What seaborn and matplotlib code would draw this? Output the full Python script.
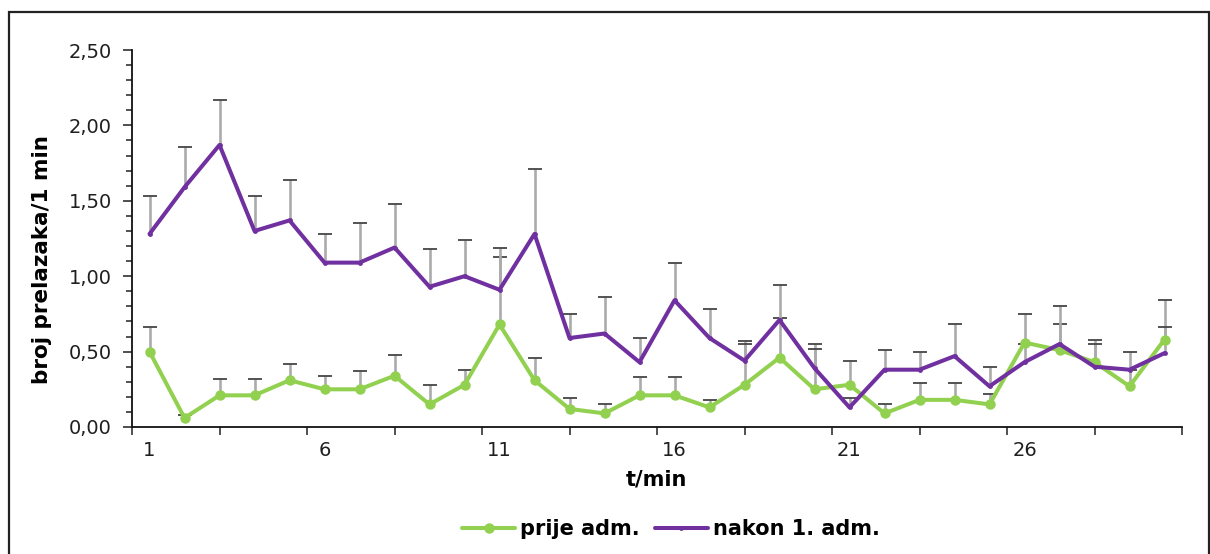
import numpy as np
import pandas as pd
import matplotlib
matplotlib.use("Agg")
import matplotlib.pyplot as plt
from matplotlib.patches import Rectangle
from matplotlib.ticker import FixedLocator, FuncFormatter, NullFormatter
import seaborn as sns

# ---- data ----
minutes = list(range(1, 31))
prije = [0.50, 0.06, 0.21, 0.21, 0.31, 0.25, 0.25, 0.34, 0.15, 0.28,
         0.68, 0.31, 0.12, 0.09, 0.21, 0.21, 0.13, 0.28, 0.46, 0.25,
         0.28, 0.09, 0.18, 0.18, 0.15, 0.56, 0.51, 0.43, 0.27, 0.58]
prije_top = [0.66, 0.08, 0.32, 0.32, 0.42, 0.34, 0.37, 0.48, 0.28, 0.38,
             1.13, 0.46, 0.19, 0.15, 0.33, 0.33, 0.18, 0.57, 0.72, 0.55,
             0.44, 0.15, 0.29, 0.29, 0.22, 0.75, 0.68, 0.58, 0.38, 0.84]
nakon = [1.28, 1.59, 1.87, 1.30, 1.37, 1.09, 1.09, 1.19, 0.93, 1.00,
         0.91, 1.28, 0.59, 0.62, 0.43, 0.84, 0.59, 0.44, 0.71, 0.39,
         0.13, 0.38, 0.38, 0.47, 0.27, 0.43, 0.55, 0.40, 0.38, 0.49]
nakon_top = [1.53, 1.86, 2.17, 1.53, 1.64, 1.28, 1.35, 1.48, 1.18, 1.24,
             1.19, 1.71, 0.75, 0.86, 0.59, 1.09, 0.78, 0.55, 0.94, 0.52,
             0.19, 0.51, 0.50, 0.68, 0.40, 0.55, 0.80, 0.55, 0.50, 0.66]
series_names = ["prije adm.", "nakon 1. adm."]
x_tick_labels = ["1", "6", "11", "16", "21", "26"]
y_ticks = [0.0, 0.5, 1.0, 1.5, 2.0, 2.5]

GREEN = "#92D050"
PURPLE = "#7030A0"

sns.set_theme(style="white")
plt.rcParams["font.family"] = ["DejaVu Sans"]

fig = plt.figure(figsize=(12.10, 5.54), dpi=100)
ax = fig.add_axes([132 / 1210, 1 - 427 / 554, 1050 / 1210, 377 / 554])

df_p = pd.DataFrame({"t": minutes, "v": prije})
df_n = pd.DataFrame({"t": minutes, "v": nakon})

# error bars (upper only, cap only at the top)
for vals, tops in [(prije, prije_top), (nakon, nakon_top)]:
    v = np.array(vals)
    up = np.array(tops) - v
    eb = ax.errorbar(minutes, v, yerr=[np.zeros_like(up), up], fmt="none",
                     ecolor="#ABABAB", elinewidth=1.9, capsize=5,
                     capthick=1.3, zorder=2)
    caps = eb[1]
    if len(caps) == 2:
        caps[0].set_visible(False)
    for cap in caps:
        cap.set_color("#454545")
        cap.set_markeredgecolor("#454545")

sns.lineplot(data=df_p, x="t", y="v", ax=ax, color=GREEN, linewidth=2.9,
             marker="o", markersize=7.5, markeredgewidth=0,
             label=series_names[0], zorder=3)
sns.lineplot(data=df_n, x="t", y="v", ax=ax, color=PURPLE, linewidth=2.9,
             marker="o", markersize=3.5, markeredgewidth=0,
             label=series_names[1], zorder=4)

ax.set_xlim(0.5, 30.5)
ax.set_ylim(0, 2.5)

# x axis: labels every 5, tick marks every 2.5 categories
ax.xaxis.set_major_locator(FixedLocator([1, 6, 11, 16, 21, 26]))
ax.set_xticklabels(x_tick_labels)
ax.xaxis.set_minor_locator(FixedLocator(list(np.arange(0.5, 30.6, 2.5))))
ax.xaxis.set_minor_formatter(NullFormatter())
ax.tick_params(axis="x", which="major", length=0, pad=10, labelsize=14,
               colors="#1f1f1f")
ax.tick_params(axis="x", which="minor", length=5.5, width=1.1,
               direction="out", color="#222222", bottom=True)

# y axis
ax.yaxis.set_major_locator(FixedLocator(y_ticks))
ax.yaxis.set_major_formatter(FuncFormatter(lambda v, p: f"{v:.2f}".replace(".", ",")))
ax.yaxis.set_minor_locator(FixedLocator(list(np.round(np.arange(0, 2.51, 0.1), 2))))
ax.tick_params(axis="y", which="major", length=6.5, width=1.1, pad=8,
               direction="out", labelsize=14, colors="#1f1f1f", left=True)
ax.tick_params(axis="y", which="minor", length=4.5, width=1.1,
               direction="out", color="#222222", left=True)

for s in ["top", "right"]:
    ax.spines[s].set_visible(False)
for s in ["left", "bottom"]:
    ax.spines[s].set_color("#111111")
    ax.spines[s].set_linewidth(1.3)

ax.grid(False)

ax.set_xlabel("t/min", fontsize=15, fontweight="bold", color="black")
ax.xaxis.set_label_coords(0.499, -0.114)
ax.xaxis.label.set_va("top")
ax.set_ylabel("broj prelazaka/1 min", fontsize=15.5, fontweight="bold",
              color="black")
ax.yaxis.set_label_coords(-0.0762, 0.443)

leg = ax.legend(loc="center", bbox_to_anchor=(0.5545, 0.045),
                bbox_transform=fig.transFigure, ncol=2, frameon=False,
                prop={"weight": "bold", "size": 15}, handlelength=2.55,
                handletextpad=0.25, columnspacing=0.7)
for t in leg.get_texts():
    t.set_color("black")

# outer chart border
fig.patches.append(Rectangle((9 / 1210, -0.02), 1199.5 / 1210, 0.02 + 1 - 11.7 / 554,
                             transform=fig.transFigure, fill=False,
                             edgecolor="#222222", linewidth=1.6))

fig.savefig("out.png", dpi=100)
